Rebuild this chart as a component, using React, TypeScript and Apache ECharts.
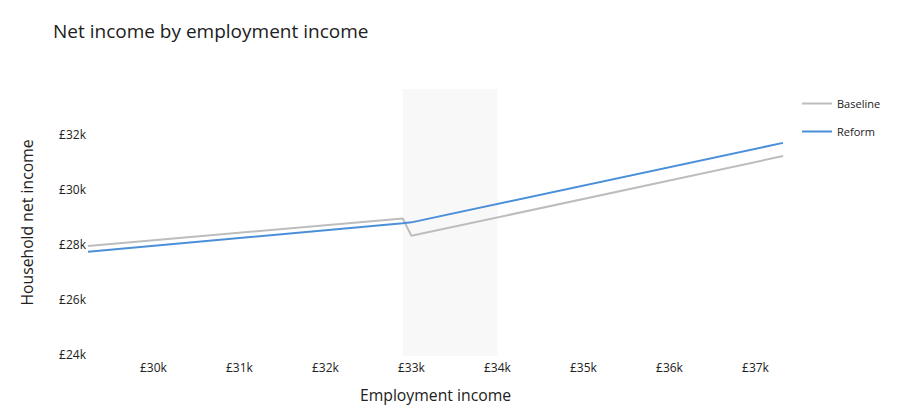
import React, { useEffect, useRef } from "react";
import * as echarts from "echarts";

const incomes = [29240, 32900, 33000, 37320];
const baseline = [27930, 28930, 28300, 31200];
const reform = [27720, 28760, 28790, 31680];
const xTicks = [30000, 31000, 32000, 33000, 34000, 35000, 36000, 37000];
const yTicks = [24000, 26000, 28000, 30000, 32000];
const shadedRange = [32900, 34000];

const FONT = "'Open Sans', 'Noto Sans', sans-serif";
const fmt = (v: number) => "£" + Math.round(v / 1000) + "k";

export default function App() {
  const ref = useRef<HTMLDivElement>(null);
  useEffect(() => {
    document.body.style.margin = "0";
    if (!ref.current) return;
    const chart = echarts.init(ref.current, undefined, { renderer: "svg" });
    chart.setOption({
      animation: false,
      backgroundColor: "#ffffff",
      textStyle: { fontFamily: FONT },
      title: {
        text: "Net income by employment income",
        left: 53,
        top: 21,
        padding: 0,
        textStyle: { fontFamily: FONT, fontSize: 19, fontWeight: "normal", color: "#212121" },
      },
      legend: {
        orient: "vertical",
        left: 797,
        top: 93,
        icon: "rect",
        itemWidth: 30,
        itemHeight: 2,
        itemGap: 17,
        textStyle: { fontFamily: FONT, fontSize: 11, color: "#212121" },
        data: ["Baseline", "Reform"],
      },
      grid: { left: 88, right: 121, top: 89, bottom: 56, containLabel: false },
      xAxis: {
        type: "value",
        min: incomes[0],
        max: incomes[incomes.length - 1],
        name: "Employment income",
        nameLocation: "middle",
        nameGap: 31,
        nameTextStyle: { fontFamily: FONT, fontSize: 15.75, color: "#212121" },
        axisLine: { show: false },
        axisTick: { show: false },
        splitLine: { show: false },
        axisLabel: {
          customValues: xTicks,
          formatter: fmt,
          margin: 5,
          fontFamily: FONT,
          fontSize: 12,
          color: "#212121",
        },
      },
      yAxis: {
        type: "value",
        min: 23930,
        max: 33640,
        name: "Household net income",
        nameLocation: "middle",
        nameGap: 53,
        nameTextStyle: { fontFamily: FONT, fontSize: 15.75, color: "#212121" },
        axisLine: { show: false },
        axisTick: { show: false },
        splitLine: { show: false },
        axisLabel: {
          customValues: yTicks,
          formatter: fmt,
          margin: 2,
          fontFamily: FONT,
          fontSize: 12,
          color: "#212121",
        },
      },
      series: [
        {
          name: "Baseline",
          type: "line",
          data: incomes.map((x, i) => [x, baseline[i]]),
          showSymbol: false,
          symbol: "none",
          lineStyle: { color: "#bdbdbd", width: 2 },
          itemStyle: { color: "#bdbdbd" },
          z: 3,
          markArea: {
            silent: true,
            itemStyle: { color: "#f8f8f8" },
            data: [[{ xAxis: shadedRange[0] }, { xAxis: shadedRange[1] }]],
            z: 1,
          },
        },
        {
          name: "Reform",
          type: "line",
          data: incomes.map((x, i) => [x, reform[i]]),
          showSymbol: false,
          symbol: "none",
          lineStyle: { color: "#4b8fd8", width: 2 },
          itemStyle: { color: "#4b8fd8" },
          z: 4,
        },
      ],
    });
    return () => chart.dispose();
  }, []);
  return <div ref={ref} style={{ width: 904, height: 412 }} />;
}
